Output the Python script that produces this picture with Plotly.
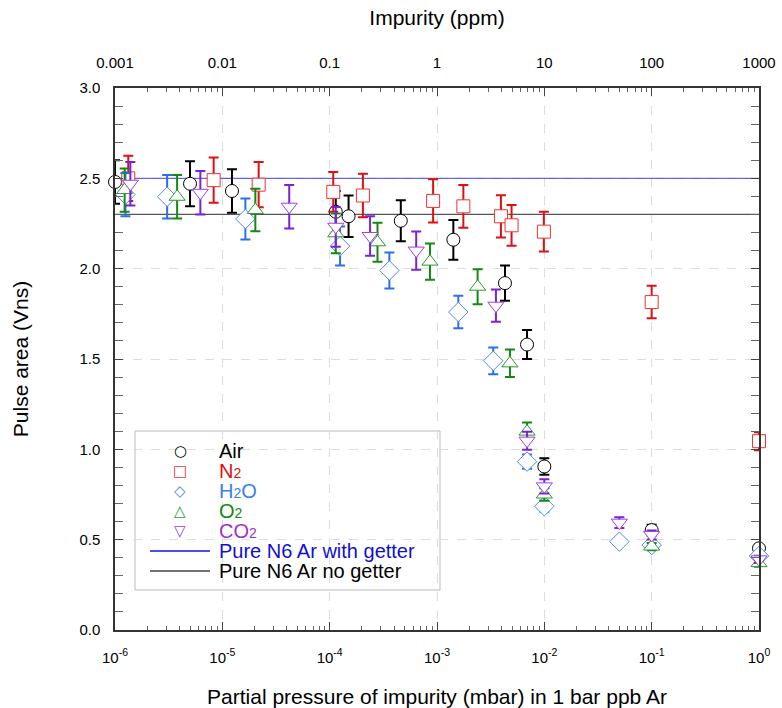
import plotly.graph_objects as go

# ---------------- data ----------------
air_x = [1.0e-6, 5.0e-6, 1.23e-5, 1.14e-4, 1.5e-4, 4.6e-4, 1.42e-3, 4.3e-3, 6.9e-3, 1.0e-2, 0.1, 1.0]
air_y = [2.48, 2.47, 2.43, 2.315, 2.29, 2.265, 2.16, 1.92, 1.58, 0.905, 0.553, 0.452]
air_e = [0.12, 0.125, 0.12, 0.115, 0.115, 0.113, 0.11, 0.097, 0.08, 0.045, 0.03, 0.02]

n2_x = [1.33e-6, 8.3e-6, 2.18e-5, 1.08e-4, 2.04e-4, 9.2e-4, 1.76e-3, 3.94e-3, 4.95e-3, 9.9e-3, 0.1, 1.0]
n2_y = [2.50, 2.49, 2.465, 2.425, 2.405, 2.375, 2.345, 2.29, 2.24, 2.205, 1.815, 1.045]
n2_e = [0.125, 0.125, 0.125, 0.11, 0.12, 0.12, 0.118, 0.117, 0.113, 0.11, 0.09, 0.05]

h2o_x = [1.25e-6, 3.06e-6, 1.64e-5, 1.25e-4, 3.6e-4, 1.58e-3, 3.34e-3, 6.9e-3, 1.0e-2, 0.05, 0.1, 1.0]
h2o_y = [2.41, 2.398, 2.275, 2.125, 1.99, 1.76, 1.49, 0.932, 0.685, 0.489, 0.47, 0.41]
h2o_e = [0.12, 0.12, 0.114, 0.108, 0.10, 0.09, 0.074, 0.04, 0.03, 0.02, 0.02, 0.02]

o2_x = [1.23e-6, 3.79e-6, 2.03e-5, 1.14e-4, 2.79e-4, 8.6e-4, 2.39e-3, 4.78e-3, 6.9e-3, 1.0e-2, 0.1, 1.0]
o2_y = [2.435, 2.398, 2.325, 2.196, 2.146, 2.039, 1.90, 1.476, 1.098, 0.75, 0.462, 0.37]
o2_e = [0.12, 0.12, 0.118, 0.11, 0.108, 0.10, 0.097, 0.076, 0.05, 0.035, 0.02, 0.02]

co2_x = [1.39e-6, 6.24e-6, 4.2e-5, 1.14e-4, 2.38e-4, 6.4e-4, 3.54e-3, 6.9e-3, 1.0e-2, 0.05, 0.1, 1.0]
co2_y = [2.47, 2.42, 2.343, 2.232, 2.181, 2.10, 1.795, 1.048, 0.795, 0.594, 0.526, 0.391]
co2_e = [0.12, 0.12, 0.12, 0.11, 0.109, 0.106, 0.089, 0.05, 0.04, 0.03, 0.025, 0.02]

line_x = [1e-6, 1.0]
getter_y = [2.5, 2.5]
nogetter_y = [2.3, 2.3]

bottom_tickvals = [1e-6, 1e-5, 1e-4, 1e-3, 1e-2, 1e-1, 1.0]
bottom_ticktext = ["10<sup>-6</sup>", "10<sup>-5</sup>", "10<sup>-4</sup>", "10<sup>-3</sup>",
                   "10<sup>-2</sup>", "10<sup>-1</sup>", "10<sup>0</sup>"]
top_tickvals = [0.001, 0.01, 0.1, 1, 10, 100, 1000]
top_ticktext = ["0.001", "0.01", "0.1", "1", "10", "100", "1000"]

SUB = '<span style="font-size:14px">2</span>'
legend_labels = ["Air", "N" + SUB, "H" + SUB + "O", "O" + SUB, "CO" + SUB,
                 "Pure N6 Ar with getter", "Pure N6 Ar no getter"]
legend_text_colors = ["#000000", "#dd1111", "#3a7ff0", "#118811", "#a030d0", "#1010d0", "#000000"]
legend_glyphs = ["\u25CB", "\u25A1", "\u25C7", "\u25B3", "\u25BD", None, None]
legend_glyph_colors = ["#000000", "#ee3333", "#4d88ff", "#2a9a2a", "#a040e0", "#1515d5", "#444444"]

minor_vals = [m * 10.0 ** e for e in range(-6, 0) for m in range(2, 10)]

FONT = "Liberation Sans, Arial, Helvetica, sans-serif"

fig = go.Figure()

# reference lines (drawn first, under markers)
fig.add_trace(go.Scatter(x=line_x, y=getter_y, mode="lines",
                         line=dict(color="rgba(40,40,230,0.7)", width=1.2),
                         name="Pure N6 Ar with getter"))
fig.add_trace(go.Scatter(x=line_x, y=nogetter_y, mode="lines",
                         line=dict(color="#555555", width=1.2),
                         name="Pure N6 Ar no getter"))

series = [
    (air_x, air_y, air_e, "circle", 13, "#000000", "#000000", "Air"),
    (n2_x, n2_y, n2_e, "square", 13, "#ee3333", "#dd1111", "N2"),
    (h2o_x, h2o_y, h2o_e, "diamond", 15, "#4d88ff", "#2a6ff0", "H2O"),
    (o2_x, o2_y, o2_e, "triangle-up", 14, "#2a9a2a", "#128a12", "O2"),
    (co2_x, co2_y, co2_e, "triangle-down", 14, "#a040e0", "#7b22d6", "CO2"),
]

for xs, ys, es, sym, sz, mcol, ecol, label in series:
    fig.add_trace(go.Scatter(
        x=xs, y=ys, mode="markers", cliponaxis=False,
        marker=dict(symbol=sym, size=sz, color="white", line=dict(color=mcol, width=1)),
        error_y=dict(type="data", array=es, visible=True, color=ecol, thickness=2, width=5),
        name=label))

# invisible trace to anchor top axis
fig.add_trace(go.Scatter(x=[0.001, 1000], y=[None, None], xaxis="x2", mode="markers",
                         showlegend=False, hoverinfo="skip"))

# ---------------- manual legend (paper coordinates) ----------------
L, R, T, B = 115.0, 759.0, 88.0, 630.0
def px(xp):
    return (xp - L) / (R - L)
def py(yp):
    return (B - yp) / (B - T)

shapes = [dict(type="rect", xref="paper", yref="paper", layer="between",
               x0=px(135), x1=px(440), y0=py(590), y1=py(431),
               fillcolor="white", line=dict(color="#bbbbbb", width=1))]
annotations = []
row0, rowstep = 451.0, 20.0
for i, lab in enumerate(legend_labels):
    yy = py(row0 + i * rowstep)
    annotations.append(dict(xref="paper", yref="paper", x=px(217), y=yy,
                            xanchor="left", yanchor="middle", showarrow=False,
                            height=20, valign="bottom", yshift=-1,
                            text=f'<span style="color:{legend_text_colors[i]}">{lab}</span>',
                            font=dict(size=20, family=FONT)))
    if legend_glyphs[i] is not None:
        annotations.append(dict(xref="paper", yref="paper", x=px(180), y=yy,
                                xanchor="center", yanchor="middle", showarrow=False,
                                height=16,
                                text=legend_glyphs[i],
                                font=dict(size=15, family="DejaVu Sans",
                                          color=legend_glyph_colors[i])))
    else:
        shapes.append(dict(type="line", xref="paper", yref="paper", layer="above",
                           x0=px(150), x1=px(210), y0=yy, y1=yy,
                           line=dict(color=legend_glyph_colors[i], width=1.5)))

fig.update_layout(
    width=782, height=708,
    margin=dict(l=115, r=23, t=88, b=78),
    paper_bgcolor="white", plot_bgcolor="white",
    font=dict(family=FONT, size=15, color="black"),
    showlegend=False,
    shapes=shapes,
    annotations=annotations,
    xaxis=dict(
        type="log", range=[-6, 0], automargin=False,
        tickmode="array", tickvals=bottom_tickvals, ticktext=bottom_ticktext,
        ticks="inside", ticklen=8, tickcolor="#444", tickwidth=1,
        minor=dict(tickmode="array", tickvals=minor_vals, ticks="inside", ticklen=4,
                   tickcolor="#666", showgrid=False),
        showgrid=True, gridcolor="#dddddd", griddash="dash", gridwidth=1,
        showline=True, linecolor="#333", linewidth=1.5, mirror="allticks",
        zeroline=False,
        tickfont=dict(size=15),
        ticklabelstandoff=13,
        title=dict(text="Partial pressure of impurity (mbar) in 1 bar ppb Ar",
                   font=dict(size=21), standoff=25),
    ),
    xaxis2=dict(
        type="log", range=[-3, 3], overlaying="x", side="top", anchor="y",
        automargin=False,
        tickmode="array", tickvals=top_tickvals, ticktext=top_ticktext,
        ticks="", showgrid=False, showline=False, zeroline=False,
        tickfont=dict(size=15),
        ticklabelstandoff=16,
        title=dict(text="Impurity (ppm)", font=dict(size=21), standoff=22),
    ),
    yaxis=dict(
        range=[0, 3], dtick=0.5, tickformat=".1f", automargin=False,
        ticks="inside", ticklen=8, tickcolor="#444",
        minor=dict(dtick=0.1, ticks="inside", ticklen=4, tickcolor="#666", showgrid=False),
        showgrid=True, gridcolor="#dddddd", griddash="dash", gridwidth=1,
        showline=True, linecolor="#333", linewidth=1.5, mirror="allticks",
        zeroline=False,
        tickfont=dict(size=15),
        ticklabelstandoff=10,
        title=dict(text="Pulse area (Vns)", font=dict(size=21), standoff=45),
    ),
)

fig.write_html("out.html")
